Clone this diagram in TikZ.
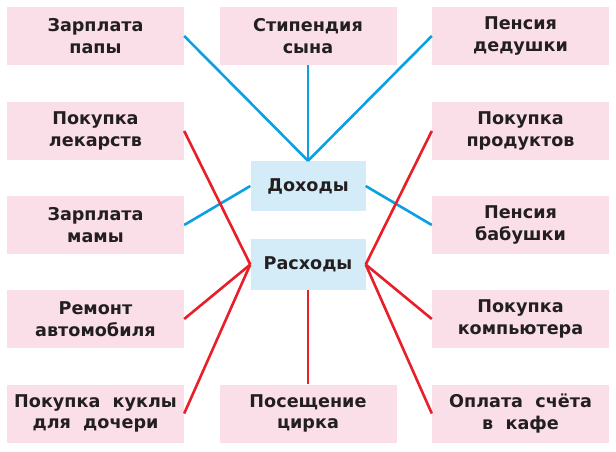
\documentclass[tikz,border=0pt]{standalone}
\usepackage{fontspec}
\setmainfont{DejaVu Sans}
\definecolor{boxpink}{RGB}{250,222,232}
\definecolor{boxblue}{RGB}{212,235,248}
\definecolor{lineblue}{RGB}{10,160,225}
\definecolor{linered}{RGB}{232,30,40}
\definecolor{txt}{RGB}{35,31,32}
\begin{document}
\begin{tikzpicture}[x=1pt,y=-1pt,
  item/.style={fill=boxpink,minimum width=177pt,minimum height=58pt,inner sep=0pt,
    align=center,font=\fontsize{17.6}{21.5}\selectfont\bfseries,text=txt},
  cat/.style={fill=boxblue,minimum width=115pt,minimum height=50pt,inner sep=0pt,
    align=center,font=\fontsize{17.6}{21.5}\selectfont\bfseries,text=txt},
  inc/.style={draw=lineblue,line width=2.6pt},
  exp/.style={draw=linered,line width=2.6pt}]
\useasboundingbox (0,0) rectangle (616,452);
\fill[white] (0,0) rectangle (616,452);
% left column
\node[item] (zp) at (95.5,36) {Зарплата\\папы};
\node[item] (pl) at (95.5,131) {Покупка\\лекарств};
\node[item] (zm) at (95.5,225) {Зарплата\\мамы};
\node[item] (ra) at (95.5,319) {Ремонт\\автомобиля};
\node[item] (pk) at (95.5,413.5) {Покупка~ куклы\\для~ дочери};
% middle column
\node[item] (ss) at (308,36) {Стипендия\\сына};
\node[item] (pc) at (308,413.5) {Посещение\\цирка};
% right column
\node[item] (pd) at (520.5,36) {Пенсия\\дедушки};
\node[item] (pp) at (520.5,131) {Покупка\\продуктов};
\node[item] (pb) at (520.5,225) {Пенсия\\бабушки};
\node[item] (pko) at (520.5,319) {Покупка\\компьютера};
\node[item] (ok) at (520.5,413.5) {Оплата~ счёта\\в~ кафе};
% categories
\node[cat] (doh) at (308,186) {Доходы};
\node[cat,minimum height=51pt] (ras) at (308,264.5) {Расходы};
% income lines
\draw[inc] (zp.east) -- (doh.north);
\draw[inc] (ss.south) -- (doh.north);
\draw[inc] (pd.west) -- (doh.north);
\draw[inc] (zm.east) -- (doh.west);
\draw[inc] (pb.west) -- (doh.east);
% expense lines
\draw[exp] (pl.east) -- (ras.west);
\draw[exp] (ra.east) -- (ras.west);
\draw[exp] (pk.east) -- (ras.west);
\draw[exp] (pp.west) -- (ras.east);
\draw[exp] (pko.west) -- (ras.east);
\draw[exp] (ok.west) -- (ras.east);
\draw[exp] (ras.south) -- (pc.north);
\end{tikzpicture}
\end{document}
